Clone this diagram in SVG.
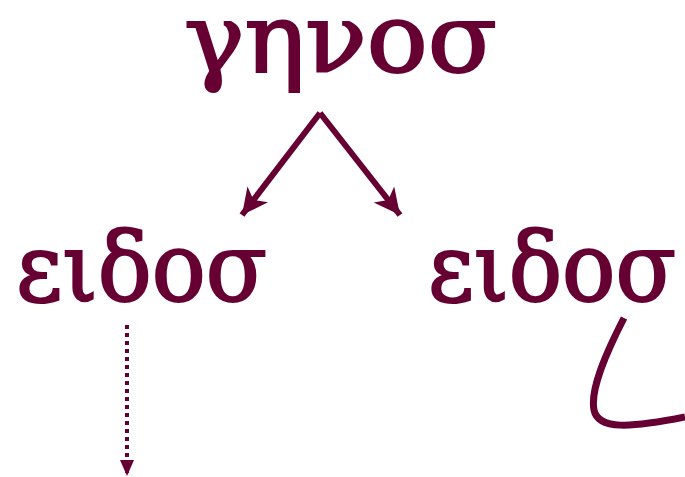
<svg xmlns="http://www.w3.org/2000/svg" width="685" height="477" viewBox="0 0 685 477">
<style>
.t{font-family:"DejaVu Serif","Liberation Serif",serif;fill:#660033;stroke:#660033;stroke-width:2.2px;font-size:95px}
.c{stroke:#660033;fill:none}
</style>
<defs>
<marker id="ah" markerUnits="userSpaceOnUse" markerWidth="32" markerHeight="32" refX="26" refY="13" orient="auto">
<path d="M0,0 L26,13 L0,26 L7,13 Z" fill="#660033"/>
</marker>
<marker id="ah2" markerUnits="userSpaceOnUse" markerWidth="20" markerHeight="20" refX="16" refY="7" orient="auto">
<path d="M0,0 L16,7 L0,14 Z" fill="#660033"/>
</marker>
</defs>
<g id="genos"><text class="t" x="184" y="72" textLength="313" lengthAdjust="spacingAndGlyphs">γηνοσ</text></g>
<g id="eidos1"><text class="t" x="16" y="301" textLength="251" lengthAdjust="spacingAndGlyphs">ειδοσ</text></g>
<g id="eidos2"><text class="t" x="428" y="301" textLength="248" lengthAdjust="spacingAndGlyphs">ειδοσ</text></g>
<g id="connectors">
<path class="c" stroke-width="6" d="M320,113 L242,215" marker-end="url(#ah)"/>
<path class="c" stroke-width="6" d="M320,113 L400,215" marker-end="url(#ah)"/>
<path class="c" stroke-width="4" stroke-dasharray="4,4" d="M127,325 L127,476" marker-end="url(#ah2)"/>
<path class="c" stroke-width="7" d="M624,318 C605,355 590,390 594,410 C598,430 630,428 685,417"/>
</g>
</svg>
